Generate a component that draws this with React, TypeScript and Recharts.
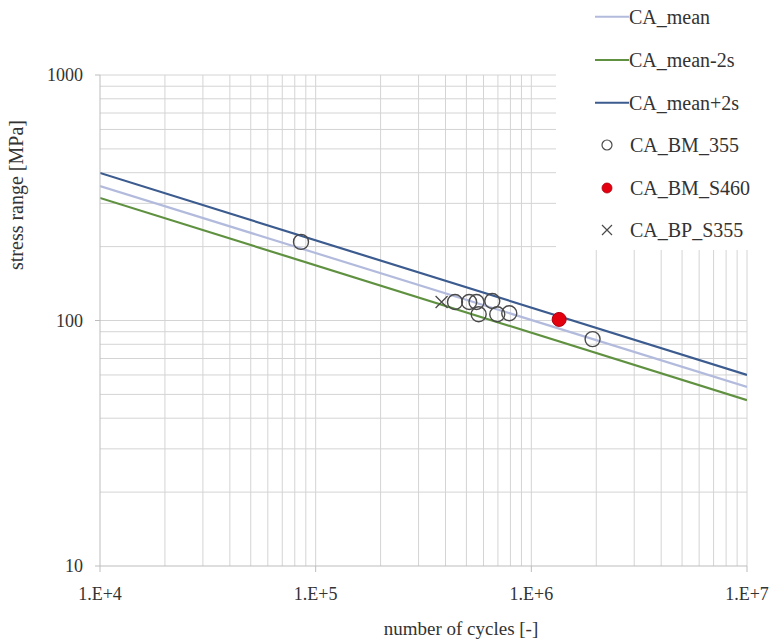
import React from 'react';
import { ComposedChart, Line, Scatter, XAxis, YAxis, ReferenceLine } from 'recharts';

// S-N curves: endpoints of the straight log-log lines
const curveCycles = [1e4, 1e7];
const caMean = [353, 53.6];
const caMeanMinus2s = [315.6, 47.4];
const caMeanPlus2s = [399, 60];

// Test results
const bm355Cycles = [85500, 442600, 515000, 557000, 570000, 659000, 695000, 790000, 1923000];
const bm355Stress = [209, 119, 119, 119, 106, 120, 106, 107, 84];
const bmS460Cycles = [1346000];
const bmS460Stress = [101];
const bpS355Cycles = [383600];
const bpS355Stress = [119];

// Axes
const xTicks = [1e4, 1e5, 1e6, 1e7];
const yTicks = [10, 100, 1000];
const xGrid = [
  2e4, 3e4, 4e4, 5e4, 6e4, 7e4, 8e4, 9e4,
  1e5, 2e5, 3e5, 4e5, 5e5, 6e5, 7e5, 8e5, 9e5,
  1e6, 2e6, 3e6, 4e6, 5e6, 6e6, 7e6, 8e6, 9e6, 1e7,
];
const yGrid = [
  20, 30, 40, 50, 60, 70, 80, 90,
  100, 200, 300, 400, 500, 600, 700, 800, 900, 1000,
];

const seriesNames = ['CA_mean', 'CA_mean-2s', 'CA_mean+2s', 'CA_BM_355', 'CA_BM_S460', 'CA_BP_S355'];

const COLORS = {
  mean: '#b3bbdd',
  minus: '#5f9140',
  plus: '#3c5b8e',
  circle: '#4a4a4a',
  red: '#e3000f',
  text: '#333333',
  grid: '#d4d4d4',
  axis: '#bdbdbd',
};

const FONT = '"Liberation Serif", "DejaVu Serif", serif';

const toPoints = (xs: number[], ys: number[]) => xs.map((n, i) => ({ n, s: ys[i] }));

const meanData = toPoints(curveCycles, caMean);
const minusData = toPoints(curveCycles, caMeanMinus2s);
const plusData = toPoints(curveCycles, caMeanPlus2s);
const bm355Data = toPoints(bm355Cycles, bm355Stress);
const bmS460Data = toPoints(bmS460Cycles, bmS460Stress);
const bpS355Data = toPoints(bpS355Cycles, bpS355Stress);

const OpenCircle = (props: any) => (
  <circle cx={props.cx} cy={props.cy} r={7.5} fill="none" stroke={COLORS.circle} strokeWidth={1.4} />
);
const RedDot = (props: any) => (
  <circle cx={props.cx} cy={props.cy} r={7} fill={COLORS.red} stroke="#b00010" strokeWidth={1} />
);
const Cross = (props: any) => {
  const { cx, cy } = props;
  const d = 6;
  return (
    <path
      d={`M${cx - d},${cy - d}L${cx + d},${cy + d}M${cx - d},${cy + d}L${cx + d},${cy - d}`}
      stroke={COLORS.circle}
      strokeWidth={1.3}
      fill="none"
    />
  );
};

const fmtX = (v: number) => `1.E+${Math.round(Math.log10(v))}`;

const LegendBox = () => {
  const rows = [16.7, 60, 102.7, 145, 188, 230];
  return (
    <div
      style={{
        position: 'absolute',
        left: 556,
        top: 0,
        width: 218,
        height: 250,
        background: '#fff',
      }}
    >
      <svg width={218} height={250}>
        {seriesNames.map((name, i) => {
          const y = rows[i];
          let icon: React.ReactNode = null;
          if (i === 0) icon = <line x1={39} x2={73} y1={y} y2={y} stroke={COLORS.mean} strokeWidth={2} />;
          if (i === 1) icon = <line x1={39} x2={73} y1={y} y2={y} stroke={COLORS.minus} strokeWidth={2} />;
          if (i === 2) icon = <line x1={39} x2={73} y1={y} y2={y} stroke={COLORS.plus} strokeWidth={2} />;
          if (i === 3) icon = <circle cx={51} cy={y} r={5} fill="none" stroke={COLORS.circle} strokeWidth={1.2} />;
          if (i === 4) icon = <circle cx={51} cy={y} r={5} fill={COLORS.red} stroke="#b00010" strokeWidth={0.8} />;
          if (i === 5)
            icon = (
              <path
                d={`M46,${y - 5}L56,${y + 5}M46,${y + 5}L56,${y - 5}`}
                stroke={COLORS.circle}
                strokeWidth={1.2}
              />
            );
          return (
            <g key={name}>
              {icon}
              <text
                x={i < 3 ? 73 : 74}
                y={y}
                dy="0.35em"
                fontFamily={FONT}
                fontSize={20}
                fill={COLORS.text}
              >
                {name}
              </text>
            </g>
          );
        })}
      </svg>
    </div>
  );
};

export default function App() {
  return (
    <div style={{ position: 'absolute', left: 0, top: 0, width: 774, height: 641, background: '#fff' }}>
      <ComposedChart
        width={774}
        height={641}
        margin={{ top: 75, right: 27, bottom: 45, left: 40 }}
      >
        <XAxis
          dataKey="n"
          type="number"
          scale="log"
          domain={[1e4, 1e7]}
          ticks={xTicks}
          tickFormatter={fmtX}
          allowDataOverflow
          height={30}
          axisLine={{ stroke: COLORS.axis }}
          tickLine={{ stroke: COLORS.axis }}
          tickSize={6}
          tickMargin={15}
          tick={{ fontFamily: FONT, fontSize: 18, fill: COLORS.text }}
          label={{
            value: 'number of cycles [-]',
            content: () => (
              <text x={461} y={635} textAnchor="middle" fontFamily={FONT} fontSize={19} fill={COLORS.text}>
                number of cycles [-]
              </text>
            ),
          }}
        />
        <YAxis
          dataKey="s"
          type="number"
          scale="log"
          domain={[10, 1000]}
          ticks={yTicks}
          allowDataOverflow
          width={60}
          axisLine={{ stroke: COLORS.axis }}
          tickLine={{ stroke: COLORS.axis }}
          tickSize={5}
          tickMargin={12}
          tick={{ fontFamily: FONT, fontSize: 18, fill: COLORS.text }}
          label={{
            value: 'stress range [MPa]',
            content: () => (
              <text
                x={16}
                y={195}
                textAnchor="middle"
                dy="0.35em"
                transform="rotate(-90 16 195)"
                fontFamily={FONT}
                fontSize={20}
                fill={COLORS.text}
              >
                stress range [MPa]
              </text>
            ),
          }}
        />
        {xGrid.map((v) => (
          <ReferenceLine key={`gx${v}`} x={v} stroke={COLORS.grid} strokeWidth={1} ifOverflow="visible" />
        ))}
        {yGrid.map((v) => (
          <ReferenceLine key={`gy${v}`} y={v} stroke={COLORS.grid} strokeWidth={1} ifOverflow="visible" />
        ))}
        <Line data={meanData} dataKey="s" name="CA_mean" stroke={COLORS.mean} strokeWidth={2.2} dot={false} isAnimationActive={false} />
        <Line data={minusData} dataKey="s" name="CA_mean-2s" stroke={COLORS.minus} strokeWidth={2.2} dot={false} isAnimationActive={false} />
        <Line data={plusData} dataKey="s" name="CA_mean+2s" stroke={COLORS.plus} strokeWidth={2.2} dot={false} isAnimationActive={false} />
        <Scatter data={bm355Data} dataKey="s" name="CA_BM_355" shape={OpenCircle} isAnimationActive={false} />
        <Scatter data={bmS460Data} dataKey="s" name="CA_BM_S460" shape={RedDot} isAnimationActive={false} />
        <Scatter data={bpS355Data} dataKey="s" name="CA_BP_S355" shape={Cross} isAnimationActive={false} />
      </ComposedChart>
      <LegendBox />
    </div>
  );
}
